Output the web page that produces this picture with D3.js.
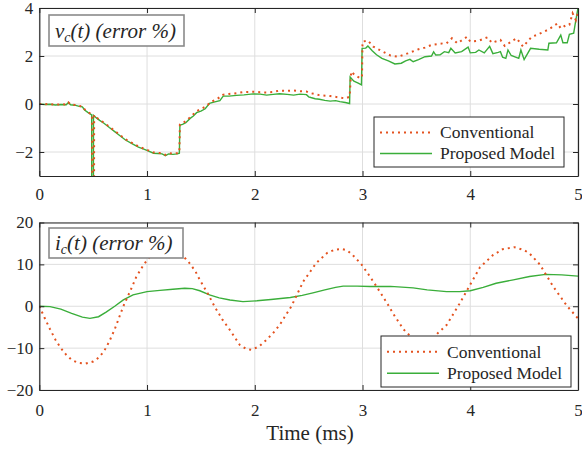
<!DOCTYPE html>
<html>
<head>
<meta charset="utf-8">
<script src="https://cdn.jsdelivr.net/npm/d3@7"></script>
<style>
body { margin: 0; background: #fff; }
svg { display: block; }
</style>
</head>
<body>
<svg width="582" height="449"></svg>
<script>
// ---- data ----
var timeTicks = [0, 1, 2, 3, 4, 5];
var vcTicks = [-2, 0, 2, 4];
var icTicks = [-20, -10, 0, 10, 20];
var seriesNames = ["Conventional", "Proposed Model"];

// v_c(t) error %, [time ms, value]
var vcConventional = [[0,0],[0.05,-0.01],[0.1,0],[0.15,-0.03],[0.2,-0.01],[0.25,-0.02],[0.27,0.07],[0.29,-0.02],
  [0.33,-0.04],[0.37,-0.08],[0.4,-0.1],[0.42,-0.22],[0.45,-0.33],[0.49,-0.45],[0.491,-6],[0.508,-6],[0.509,-0.46],
  [0.53,-0.56],[0.56,-0.66],[0.6,-0.78],[0.65,-0.95],[0.7,-1.12],[0.74,-1.26],[0.8,-1.47],[0.86,-1.62],[0.92,-1.77],
  [0.97,-1.86],[1.01,-1.93],[1.06,-2.02],[1.1,-2.04],[1.14,-2.05],[1.17,-2.12],[1.2,-2.05],[1.24,-2.07],[1.28,-2.05],
  [1.3,-2.02],[1.305,-0.85],[1.36,-0.72],[1.4,-0.55],[1.46,-0.3],[1.54,-0.12],[1.6,0.1],[1.65,0.2],[1.7,0.38],
  [1.76,0.42],[1.83,0.45],[1.9,0.5],[1.985,0.51],[2.05,0.49],[2.11,0.48],[2.17,0.5],[2.23,0.56],[2.3,0.55],[2.36,0.56],
  [2.42,0.53],[2.48,0.52],[2.52,0.45],[2.6,0.37],[2.7,0.33],[2.79,0.27],[2.84,0.23],[2.88,0.3],[2.895,1.35],[2.93,1.2],
  [2.97,1.1],[2.995,1.1],[3.0,2.6],[3.05,2.64],[3.1,2.39],[3.19,2.18],[3.26,2.02],[3.33,1.97],[3.42,2.11],[3.52,2.28],
  [3.58,2.35],[3.64,2.46],[3.7,2.5],[3.75,2.53],[3.78,2.53],[3.83,2.74],[3.88,2.53],[3.97,2.8],[4.0,2.6],[4.08,2.64],
  [4.16,2.78],[4.2,2.55],[4.28,2.67],[4.32,2.42],[4.43,2.74],[4.49,2.39],[4.57,2.8],[4.62,2.88],[4.73,3.11],[4.81,3.36],
  [4.84,3.15],[4.89,3.29],[4.92,3.3],[4.95,3.78],[4.98,3.5],[5.0,3.85]];
var vcProposed = [[0,0],[0.05,-0.02],[0.1,-0.01],[0.15,-0.04],[0.2,-0.02],[0.25,-0.03],[0.27,0.06],[0.29,-0.03],
  [0.33,-0.05],[0.37,-0.1],[0.4,-0.12],[0.42,-0.25],[0.45,-0.35],[0.486,-0.45],[0.487,-6],[0.502,-6],[0.503,-0.47],
  [0.53,-0.58],[0.56,-0.68],[0.6,-0.8],[0.65,-0.98],[0.7,-1.15],[0.74,-1.29],[0.8,-1.5],[0.86,-1.65],[0.92,-1.8],
  [0.97,-1.88],[1.01,-1.95],[1.06,-2.05],[1.1,-2.06],[1.14,-2.08],[1.17,-2.15],[1.2,-2.08],[1.24,-2.1],[1.28,-2.08],
  [1.3,-2.05],[1.305,-0.88],[1.33,-0.85],[1.36,-0.78],[1.4,-0.6],[1.43,-0.5],[1.46,-0.36],[1.5,-0.3],[1.54,-0.2],
  [1.58,0.03],[1.62,0.08],[1.676,0.14],[1.707,0.33],[1.76,0.33],[1.83,0.36],[1.9,0.38],[1.985,0.42],[2.05,0.41],
  [2.11,0.37],[2.17,0.4],[2.23,0.43],[2.3,0.4],[2.36,0.37],[2.42,0.41],[2.48,0.39],[2.5,0.3],[2.52,0.27],[2.56,0.22],
  [2.6,0.2],[2.65,0.15],[2.7,0.12],[2.75,0.14],[2.79,0.1],[2.84,0.06],[2.88,0.02],[2.885,1.12],[2.92,0.95],[2.96,0.87],
  [2.99,0.8],[2.996,2.32],[3.03,2.33],[3.05,2.42],[3.09,2.22],[3.13,2.05],[3.18,1.9],[3.24,1.8],[3.3,1.67],[3.36,1.7],
  [3.4,1.8],[3.44,1.86],[3.47,1.76],[3.52,1.85],[3.58,1.97],[3.64,2.0],[3.66,2.17],[3.68,2.04],[3.72,2.05],[3.76,2.18],
  [3.8,2.14],[3.82,2.32],[3.86,2.13],[3.92,2.18],[3.98,2.37],[4.0,2.13],[4.05,2.15],[4.08,2.25],[4.13,2.13],[4.18,2.4],
  [4.21,2.1],[4.26,2.15],[4.28,2.18],[4.3,1.95],[4.33,1.9],[4.35,2.25],[4.38,2.02],[4.45,1.9],[4.47,2.25],[4.5,1.85],
  [4.56,2.32],[4.64,2.28],[4.72,2.25],[4.73,2.53],[4.8,2.55],[4.84,2.87],[4.86,2.55],[4.9,2.55],[4.92,2.9],[4.96,2.95],
  [4.98,3.5],[5.0,4.0]];

// i_c(t) error %, [time ms, value]
var icConventional = [[0,0],[0.05,-2.8],[0.1,-5.5],[0.15,-8],[0.2,-10],[0.25,-11.6],[0.3,-12.8],[0.36,-13.5],[0.43,-13.7],
  [0.5,-13.2],[0.55,-12.3],[0.6,-10.8],[0.65,-8.4],[0.7,-5.5],[0.78,0],[0.85,4],[0.9,7],[0.97,10],[1.03,11.9],[1.08,12.8],
  [1.14,13.6],[1.2,13.8],[1.26,13.4],[1.32,12.3],[1.36,11.3],[1.4,10.1],[1.45,8.3],[1.49,6.3],[1.56,3.2],[1.63,-0.2],
  [1.7,-3.2],[1.77,-5.7],[1.86,-9.2],[1.92,-10.2],[1.97,-10.4],[2.04,-9.6],[2.11,-8],[2.17,-6.4],[2.23,-4.5],[2.34,0],
  [2.45,5.9],[2.57,10.3],[2.67,12.7],[2.74,13.5],[2.805,13.7],[2.86,13.3],[2.91,12.2],[2.99,10],[3.05,7.8],[3.12,5.1],
  [3.18,2.7],[3.245,0],[3.28,-1.6],[3.38,-5.5],[3.47,-7.8],[3.55,-8.8],[3.62,-8.6],[3.7,-6.4],[3.78,-4.5],[3.9,0.6],
  [4.0,5.2],[4.09,9.3],[4.21,12.2],[4.3,13.6],[4.41,14.1],[4.5,13.4],[4.55,12.6],[4.645,10],[4.77,4.7],[4.9,0],[5.0,-2.9]];
var icProposed = [[0,0],[0.1,-0.1],[0.2,-0.7],[0.3,-1.7],[0.4,-2.6],[0.47,-2.9],[0.55,-2.5],[0.62,-1.4],[0.7,0],
  [0.78,1.5],[0.87,2.7],[1.0,3.5],[1.12,3.8],[1.24,4.05],[1.35,4.3],[1.42,4.2],[1.49,3.7],[1.58,2.7],[1.67,2.0],
  [1.77,1.5],[1.89,1.1],[2.02,1.3],[2.15,1.6],[2.33,2.1],[2.44,2.6],[2.54,3.2],[2.65,3.9],[2.75,4.5],[2.82,4.8],
  [2.95,4.8],[3.07,4.7],[3.26,4.75],[3.47,4.4],[3.6,3.9],[3.78,3.5],[3.9,3.5],[4.0,3.7],[4.12,4.5],[4.24,5.5],
  [4.4,6.3],[4.55,7.1],[4.7,7.6],[4.85,7.5],[5.0,7.2]];

var convColor = "#e4521f";
var propColor = "#3aae3a";
var axisColor = "#262626";
var gridColor = "#dedede";
var serif = "Liberation Serif";

var svg = d3.select("svg");
var xs = d3.scaleLinear().domain([0, 5]).range([39.3, 578]);

function panel(id, ydomain, yrange, yticks, conv, prop, titleMain, titleRest, titleBox, legendBox, labelPad) {
    var ys = d3.scaleLinear().domain(ydomain).range(yrange);
    var g = svg.append("g");
    var left = xs.range()[0], right = xs.range()[1];
    var top = yrange[1], bottom = yrange[0];

    g.append("clipPath").attr("id", id)
        .append("rect").attr("x", left).attr("y", top)
        .attr("width", right - left).attr("height", bottom - top);

    // grid
    g.selectAll(".gx").data(timeTicks).enter().append("line")
        .attr("x1", function(d) { return xs(d); }).attr("x2", function(d) { return xs(d); })
        .attr("y1", top).attr("y2", bottom)
        .attr("stroke", gridColor).attr("stroke-width", 1);
    g.selectAll(".gy").data(yticks).enter().append("line")
        .attr("y1", function(d) { return ys(d); }).attr("y2", function(d) { return ys(d); })
        .attr("x1", left).attr("x2", right)
        .attr("stroke", gridColor).attr("stroke-width", 1);

    var line = d3.line()
        .x(function(d) { return xs(d[0]); })
        .y(function(d) { return ys(d[1]); });

    var lines = g.append("g").attr("clip-path", "url(#" + id + ")");
    lines.append("path").datum(prop)
        .attr("d", line).attr("fill", "none")
        .attr("stroke", propColor).attr("stroke-width", 1.4);
    lines.append("path").datum(conv)
        .attr("d", line).attr("fill", "none")
        .attr("stroke", convColor).attr("stroke-width", 2)
        .attr("stroke-dasharray", "2,4");

    // axes, ticks pointing inwards on all four sides
    var fmt = d3.format("d");
    var xAxis = d3.axisBottom(xs).tickValues(timeTicks).tickFormat(fmt)
        .tickSizeInner(-5).tickSizeOuter(0).tickPadding(labelPad);
    var xAxisTop = d3.axisTop(xs).tickValues(timeTicks).tickSizeInner(-5).tickSizeOuter(0).tickFormat("");
    var yAxis = d3.axisLeft(ys).tickValues(yticks).tickFormat(fmt)
        .tickSizeInner(-5).tickSizeOuter(0).tickPadding(6);
    var yAxisRight = d3.axisRight(ys).tickValues(yticks).tickSizeInner(-5).tickSizeOuter(0).tickFormat("");

    var axes = [
        g.append("g").attr("transform", "translate(0," + bottom + ")").call(xAxis),
        g.append("g").attr("transform", "translate(0," + top + ")").call(xAxisTop),
        g.append("g").attr("transform", "translate(" + left + ",0)").call(yAxis),
        g.append("g").attr("transform", "translate(" + right + ",0)").call(yAxisRight)
    ];
    axes.forEach(function(a) {
        a.attr("font-family", serif).attr("font-size", 17);
        a.select(".domain").attr("stroke", axisColor).attr("stroke-width", 1.2);
        a.selectAll(".tick line").attr("stroke", axisColor);
        a.selectAll("text").attr("fill", axisColor);
    });

    // title box
    g.append("rect").attr("x", titleBox[0]).attr("y", titleBox[1])
        .attr("width", titleBox[2]).attr("height", titleBox[3])
        .attr("fill", "#fff").attr("stroke", "#8a8a8a").attr("stroke-width", 1.6);
    var tt = g.append("text").attr("x", titleBox[0] + 6).attr("y", titleBox[1] + titleBox[3] - 8)
        .attr("font-family", serif).attr("font-size", 21).attr("font-style", "italic")
        .attr("fill", axisColor);
    tt.append("tspan").text(titleMain);
    tt.append("tspan").attr("dy", 4).attr("font-size", 14).text("c");
    tt.append("tspan").attr("dy", -4).text(titleRest);

    // legend
    var lx = legendBox[0], ly = legendBox[1], lw = legendBox[2], lh = legendBox[3];
    g.append("rect").attr("x", lx).attr("y", ly).attr("width", lw).attr("height", lh)
        .attr("fill", "#fff").attr("stroke", axisColor).attr("stroke-width", 1);
    var rows = [
        { name: seriesNames[0], color: convColor, dash: "2,4", w: 2 },
        { name: seriesNames[1], color: propColor, dash: null, w: 1.4 }
    ];
    var rowY = [ly + lh * 0.31, ly + lh * 0.73];
    rows.forEach(function(r, i) {
        g.append("line").attr("x1", lx + 6).attr("x2", lx + 58)
            .attr("y1", rowY[i]).attr("y2", rowY[i])
            .attr("stroke", r.color).attr("stroke-width", r.w)
            .attr("stroke-dasharray", r.dash);
        g.append("text").attr("x", lx + 66).attr("y", rowY[i]).attr("dy", "0.34em")
            .attr("font-family", serif).attr("font-size", 17.5).attr("fill", axisColor)
            .text(r.name);
    });
}

panel("clipTop", [-3, 4], [176, 8], vcTicks, vcConventional, vcProposed,
      "v", "(t) (error %)", [49, 15, 135, 31], [374, 117, 190, 50], 12);
panel("clipBottom", [-20, 20], [390, 222.5], icTicks, icConventional, icProposed,
      "i", "(t) (error %)", [49, 228, 134, 30], [381, 336, 190, 51], 14);

svg.append("text").attr("x", 310).attr("y", 440).attr("text-anchor", "middle")
    .attr("font-family", serif).attr("font-size", 21).attr("fill", axisColor)
    .text("Time (ms)");
</script>
</body>
</html>
